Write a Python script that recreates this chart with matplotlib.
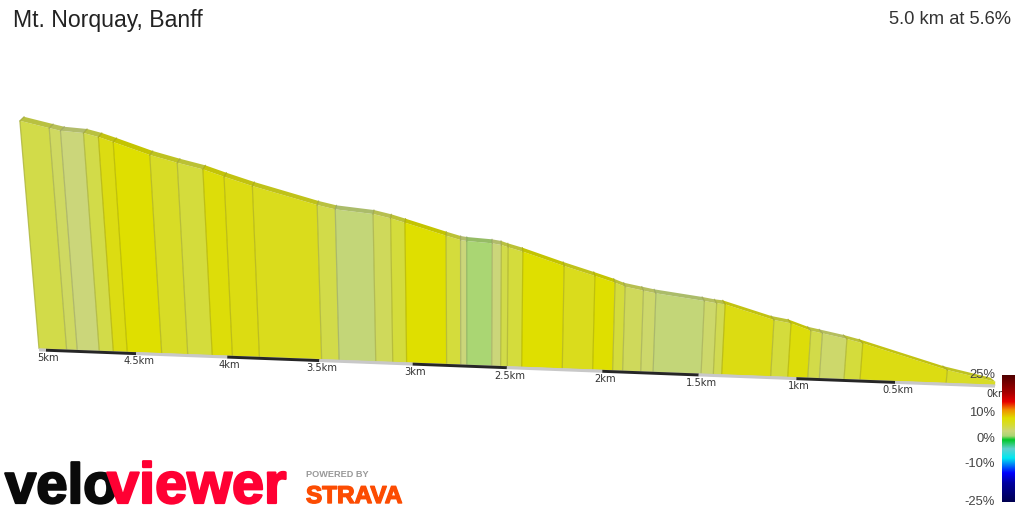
import numpy as np
import matplotlib
matplotlib.use("Agg")
import matplotlib.pyplot as plt
from matplotlib.colors import LinearSegmentedColormap, to_rgb
from matplotlib.patches import Polygon
import matplotlib.patheffects as pe

# ---------- data ----------
title = "Mt. Norquay, Banff"
summary = "5.0 km at 5.6%"
km = [5.039, 4.885, 4.826, 4.704, 4.626, 4.549, 4.359, 4.216, 4.082, 3.972,
      3.825, 3.488, 3.394, 3.197, 3.106, 3.032, 2.819, 2.744, 2.712, 2.580,
      2.533, 2.498, 2.422, 2.209, 2.050, 1.946, 1.894, 1.800, 1.736, 1.488,
      1.425, 1.382, 1.131, 1.044, 0.942, 0.883, 0.758, 0.677, 0.244, 0.0]
elev_m = [282.6, 274.4, 271.4, 269.3, 264.8, 259.0, 244.1, 235.4, 228.1, 219.7,
          209.2, 188.2, 183.5, 179.1, 174.5, 169.7, 155.4, 150.7, 149.7, 147.8,
          146.2, 143.6, 138.9, 123.2, 112.4, 105.1, 100.7, 96.7, 94.0, 86.8,
          84.5, 83.6, 67.0, 63.7, 55.8, 53.2, 47.6, 43.2, 15.4, 3.9]
grade_pct = [4.5, 3.8, 3.0, 4.5, 7.0, 8.0, 6.0, 5.0, 7.5, 7.0,
             6.5, 4.5, 2.5, 4.0, 5.0, 8.0, 5.0, 3.0, 1.0, 3.0,
             4.5, 5.0, 8.0, 6.5, 8.0, 5.0, 4.0, 3.5, 2.5, 3.5,
             4.2, 7.0, 5.0, 7.5, 4.5, 3.5, 5.0, 7.0, 6.0]
tick_km = [5, 4.5, 4, 3.5, 3, 2.5, 2, 1.5, 1, 0.5, 0]
tick_labels = ["5km", "4.5km", "4km", "3.5km", "3km", "2.5km", "2km", "1.5km", "1km", "0.5km", "0km"]
legend_vals = [25, 10, 0, -10, -25]
legend_labels = ["25%", "10%", "0%", "-10%", "-25%"]
cmap_vals = [-25, -17.5, -13.5, -7.7, -4, -0.5, 1, 3, 4.5, 5.5, 7, 8, 11.3, 14.5, 18, 25]
cmap_cols = ["#000050", "#0000a0", "#0000ff", "#00e8f0", "#60d0d0", "#00c828", "#aad673",
             "#cbd67a", "#d2db4a", "#d6dc30", "#dcdc12", "#dfdf00", "#f09000", "#e80000",
             "#a80000", "#500000"]

# ---------- scales ----------
fig = plt.figure(figsize=(10.24, 5.12), dpi=100)
ax = fig.add_axes([0, 0, 1, 1])
ax.set_xlim(0, 1024)
ax.set_ylim(512, 0)
ax.axis("off")

P = 0.0118          # perspective along the road
A = 201.0           # px per km at the near end
X0, Y0 = 995.0, 385.0
M_PER_PX = 1.17


def base(d):
    d = np.asarray(d, float)
    x = X0 - A * d / (1 + P * d)
    return x, Y0 - 0.0379 * (X0 - x)


def top(d, e):
    d = np.asarray(d, float)
    x, y = base(d)
    h = np.asarray(e, float) / M_PER_PX / (1 + P * d)
    return x + (x - 470) * h / 5130, y - h


def back(x, y):
    return x + (470 - x) * 0.0093, y - 4


cm = LinearSegmentedColormap.from_list(
    "grade", [((v + 25) / 50, c) for v, c in zip(cmap_vals, cmap_cols)], N=512)


def colour(g):
    return cm((g + 25) / 50)


# ---------- solid ----------
bx, by = base(km)
tx, ty = top(km, elev_m)
qx, qy = back(tx, ty)
for i, g in enumerate(grade_pct):
    c = np.array(colour(g)[:3])
    ax.add_patch(Polygon([(tx[i], ty[i]), (tx[i + 1], ty[i + 1]), (bx[i + 1], by[i + 1]), (bx[i], by[i])],
                         closed=True, fc=c, ec="none", zorder=2))
    ax.add_patch(Polygon([(qx[i], qy[i]), (qx[i + 1], qy[i + 1]), (tx[i + 1], ty[i + 1]), (tx[i], ty[i])],
                         closed=True, fc=c * 0.88, ec="none", zorder=2))
    # boundary shading follows the segment colour
    ax.plot([tx[i], bx[i]], [ty[i], by[i]], color=c * 0.82, lw=0.9, alpha=0.8, zorder=3, solid_capstyle="butt")
    ax.plot([qx[i], tx[i]], [qy[i], ty[i]], color=c * 0.72, lw=0.8, alpha=0.7, zorder=3)
ax.plot(bx, by, color="#c9c9a8", lw=0.6, zorder=3)

# ---------- distance band ----------
band_edges = [km[0]] + tick_km
for j in range(len(band_edges) - 1):
    xs, ys = base([band_edges[j], band_edges[j + 1]])
    dark = j % 2 == 1
    ax.plot(xs, np.array(ys) + 1.2, color="#262626" if dark else "#c8c8c8", lw=2.1,
            solid_capstyle="butt", zorder=4)

txs, tys = base(tick_km)
for x, y, s in zip(txs, tys, tick_labels):
    ax.text(x + 2.5, y + 9.0, s, ha="center", va="center", fontsize=7.1,
            family="DejaVu Sans", color="#333333", zorder=6)

# ---------- titles ----------
ax.text(13, 20, title, fontsize=16.6, family="Liberation Sans", color="#222222", va="center", ha="left")
ax.text(1011, 19, summary, fontsize=13.2, family="Liberation Sans", color="#333333", va="center", ha="right")

# ---------- grade legend ----------
leg = fig.add_axes([1002 / 1024, 1 - 502 / 512, 13 / 1024, 127 / 512])
leg.imshow(np.linspace(1, 0, 512).reshape(-1, 1), cmap=cm, aspect="auto", vmin=0, vmax=1)
leg.axis("off")
for v, s in zip(legend_vals, legend_labels):
    ax.text(995, 438.5 - v * 2.54, s, ha="right", va="center", fontsize=9.4,
            family="Liberation Sans", color="#444444", zorder=7)

# ---------- logos ----------
ax.text(5, 503, "velo", fontsize=40.5, fontweight="bold", family="Liberation Sans", color="#0a0a0a",
        va="baseline", ha="left", path_effects=[pe.withStroke(linewidth=1.6, foreground="#0a0a0a")])
ax.text(107, 503, "viewer", fontsize=41.5, fontweight="bold", family="Liberation Sans", color="#ff0033",
        va="baseline", ha="left", path_effects=[pe.withStroke(linewidth=1.6, foreground="#ff0033")])
ax.text(306, 477, "POWERED BY", fontsize=6.6, fontweight="bold", family="Liberation Sans",
        color="#999999", va="baseline", ha="left")
ax.text(306, 503, "STRAVA", fontsize=17.5, fontweight="bold", family="Liberation Sans", color="#fc4c02",
        va="baseline", ha="left", path_effects=[pe.withStroke(linewidth=1.0, foreground="#fc4c02")])

fig.savefig("out.png", dpi=100)
